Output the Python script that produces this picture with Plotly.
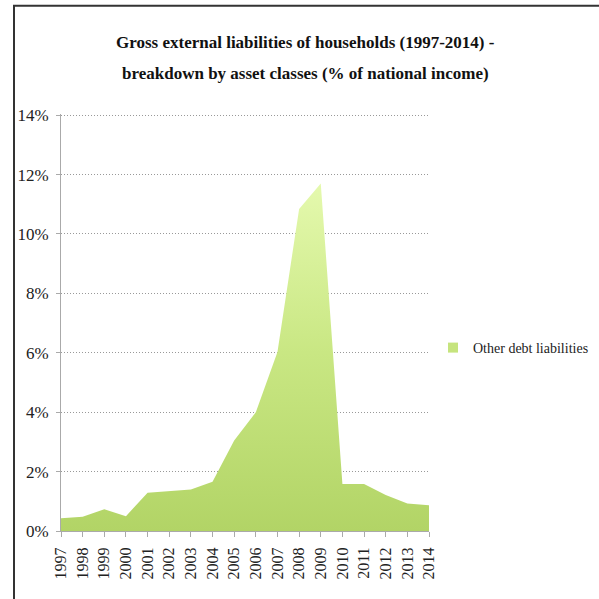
import plotly.graph_objects as go

years = list(range(1997, 2015))
other_debt = [0.43, 0.48, 0.73, 0.50, 1.29, 1.35, 1.40, 1.66, 3.05, 4.0, 6.03,
              10.84, 11.7, 1.58, 1.58, 1.21, 0.93, 0.87]
y_ticks = [0, 2, 4, 6, 8, 10, 12, 14]
y_tick_labels = [f"{v}%" for v in y_ticks]
series_name = "Other debt liabilities"
title_lines = ["Gross external liabilities of households (1997-2014) -",
               "breakdown by asset classes (% of national income)"]

L, R, T, B = 61, 429, 115, 531
W = H = 599

def px_x(p):
    return (p - L) / (R - L)

def px_y(p):
    return (B - p) / (B - T)

fig = go.Figure()
fig.add_trace(go.Scatter(
    x=years, y=other_debt, mode="lines", name=series_name,
    line=dict(width=0, color="#b8d86c"),
    fill="tozeroy",
    fillgradient=dict(type="vertical", start=0, stop=12,
                      colorscale=[[0, "#b2d466"], [0.5, "#c9e783"], [1, "#e6fab0"]]),
    showlegend=False, hoverinfo="skip",
))
# legend entry (square swatch)
fig.add_trace(go.Scatter(
    x=[None], y=[None], mode="markers", name=series_name,
    marker=dict(symbol="square", size=10, color="#c6e47e"),
    showlegend=True,
))

font_family = "Liberation Serif"

annotations = [
    dict(text=f"<b>{title_lines[0]}</b>", xref="paper", yref="paper",
         x=px_x(305), y=px_y(44), xanchor="center", yanchor="middle",
         showarrow=False, font=dict(size=17, family=font_family, color="#111")),
    dict(text=f"<b>{title_lines[1]}</b>", xref="paper", yref="paper",
         x=px_x(305), y=px_y(75), xanchor="center", yanchor="middle",
         showarrow=False, font=dict(size=17, family=font_family, color="#111")),
]

fig.update_layout(
    width=W, height=H,
    margin=dict(l=L, r=W - R, t=T - 1, b=H - B),
    paper_bgcolor="white", plot_bgcolor="white",
    font=dict(family=font_family, color="#222"),
    annotations=annotations,
    xaxis=dict(range=[1997, 2014], tickvals=years, ticktext=[str(y) for y in years],
               tickangle=-90, tickfont=dict(size=16, family=font_family, color="#222"),
               showgrid=False, showline=True, linecolor="#aaa", linewidth=1,
               ticks="outside", ticklen=5, tickcolor="#aaa", zeroline=False,
               automargin=False, ticklabelstandoff=4),
    yaxis=dict(range=[0, 14.04], tickvals=y_ticks, ticktext=y_tick_labels,
               tickfont=dict(size=17, family=font_family, color="#222"),
               showgrid=True, gridcolor="#999", griddash="1px,2px", gridwidth=1,
               showline=True, linecolor="#aaa", linewidth=1,
               ticks="outside", ticklen=4, tickcolor="#aaa", zeroline=False,
               automargin=False, ticklabelstandoff=4),
    legend=dict(xref="container", yref="container",
                x=433 / W, y=1 - 348 / H, xanchor="left", yanchor="middle",
                font=dict(size=14, family=font_family, color="#222"),
                bgcolor="rgba(0,0,0,0)"),
    shapes=[
        dict(type="rect", xref="paper", yref="paper", layer="above",
             x0=px_x(14), x1=px_x(700), y0=px_y(7), y1=px_y(700),
             line=dict(color="#333", width=2), fillcolor="rgba(0,0,0,0)"),
    ],
)

fig.write_html("out.html", config={"displayModeBar": False},
               post_script="document.body.style.margin='0';document.body.style.overflow='hidden';")
